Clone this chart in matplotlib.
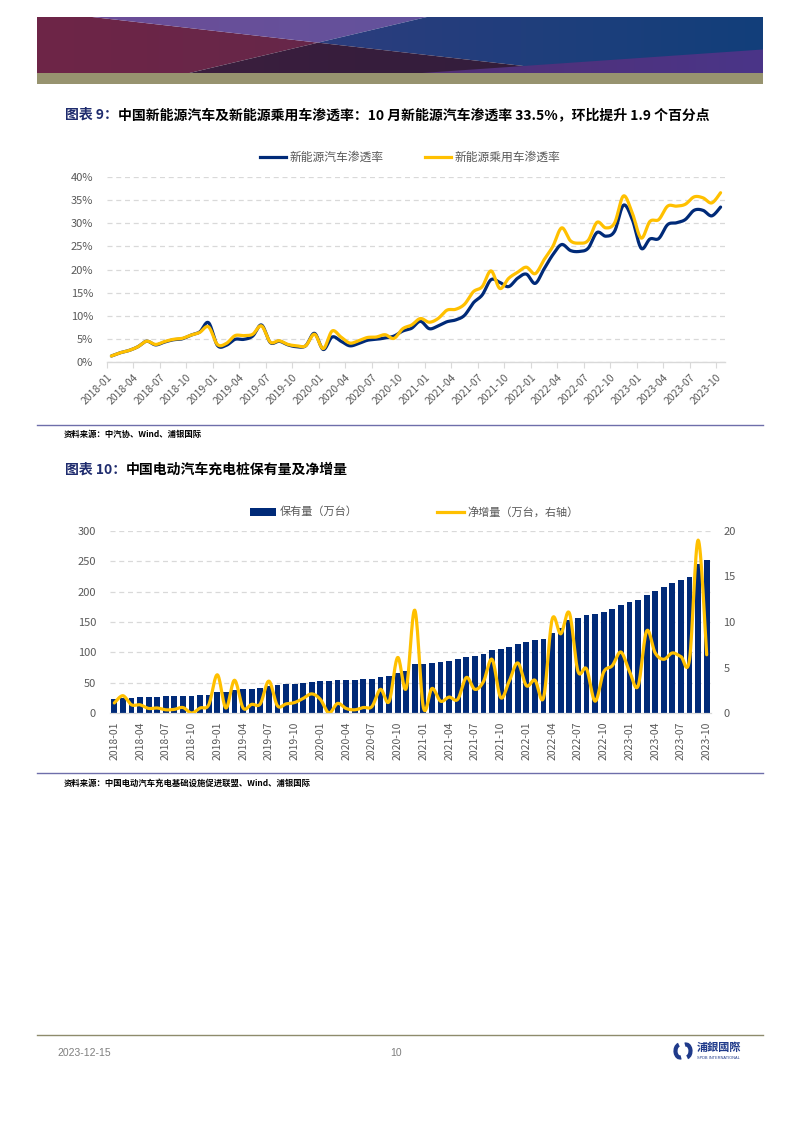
import numpy as np
import matplotlib
matplotlib.use('Agg')
import matplotlib.pyplot as plt
from matplotlib.patches import Polygon, Rectangle, Arc
from matplotlib.lines import Line2D

W, H = 794, 1123
plt.rcParams['font.family'] = ['Noto Sans CJK SC', 'DejaVu Sans']

NAVY = '#002A78'
GOLD = '#FFC000'
GRID = '#D9D9D9'
TXT = '#595959'

# ---- data ----
tick_labels = ['2018-01', '2018-04', '2018-07', '2018-10', '2019-01', '2019-04', '2019-07', '2019-10',
               '2020-01', '2020-04', '2020-07', '2020-10', '2021-01', '2021-04', '2021-07', '2021-10',
               '2022-01', '2022-04', '2022-07', '2022-10', '2023-01', '2023-04', '2023-07', '2023-10']

# NEV penetration (%), 2018-01 .. 2023-10
nev_rate = [1.3, 2.0, 2.5, 3.3, 4.5, 3.7, 4.3, 4.8, 5.0, 5.8, 6.5, 8.5,
            3.6, 3.6, 4.9, 4.9, 5.6, 8.0, 4.2, 4.5, 3.7, 3.3, 3.5, 6.2,
            2.7, 5.4, 4.5, 3.5, 4.0, 4.7, 4.9, 5.2, 5.6, 6.7, 7.3, 8.8,
            7.2, 7.8, 8.7, 9.1, 10.1, 12.8, 14.5, 17.8, 17.2, 16.3, 18.1, 19.0,
            17.0, 20.1, 23.2, 25.4, 24.1, 23.9, 24.6, 28.0, 27.2, 28.3, 33.9, 30.8,
            24.6, 26.6, 26.7, 29.7, 30.1, 30.8, 32.8, 32.8, 31.6, 33.5]

# NEV passenger car penetration (%)
pv_rate = [1.3, 2.0, 2.5, 3.3, 4.5, 3.8, 4.4, 4.9, 5.1, 5.8, 6.4, 7.6,
           3.8, 4.0, 5.7, 5.7, 6.0, 7.8, 4.3, 4.6, 3.8, 3.5, 3.5, 6.0,
           2.9, 6.7, 5.4, 4.1, 4.6, 5.3, 5.4, 5.9, 5.1, 7.2, 8.0, 9.4,
           8.6, 9.4, 11.2, 11.4, 12.5, 15.2, 16.3, 19.7, 15.9, 18.1, 19.4, 20.5,
           19.1, 22.1, 25.0, 29.0, 26.2, 25.7, 26.3, 30.2, 29.0, 30.1, 35.9, 32.2,
           26.8, 30.4, 30.8, 33.7, 33.7, 34.1, 35.7, 35.5, 34.4, 36.6]

# charging piles stock (10k units)
pile_stock = [22.4, 25.0, 25.0, 25.7, 26.3, 26.8, 27.4, 27.9, 27.9, 28.5, 29.0, 30.0,
              34.0, 34.5, 37.8, 39.0, 40.0, 41.0, 44.4, 45.5, 47.0, 48.0, 49.3,
              51.0, 52.6, 52.6, 53.7, 54.8, 54.8, 55.3, 56.4, 58.6, 60.2, 66.3, 69.0,
              80.5, 80.5, 82.7, 84.3, 86.5, 88.2, 92.0, 94.7, 98.0, 103.5, 105.7, 109.0, 114.0,
              116.6, 120.5, 122.7, 132.0, 140.2, 152.8, 156.6, 161.0, 162.6, 167.0, 172.0, 178.5,
              183.0, 185.6, 194.4, 201.5, 207.5, 214.0, 219.6, 225.0, 245.9, 251.4]

# net increase (10k units, right axis)
pile_added = [1.1, 1.9, 0.9, 0.9, 0.5, 0.55, 0.35, 0.4, 0.6, 0.0, 0.55, 0.9,
              4.2, 0.55, 3.6, 0.55, 0.95, 1.0, 3.5, 0.8, 1.0, 1.15, 1.6, 2.1,
              1.5, 0.0, 1.05, 0.5, 0.35, 0.6, 0.7, 2.6, 1.25, 6.1, 2.7, 11.3,
              0.6, 2.7, 1.3, 1.75, 1.5, 3.9, 2.6, 3.45, 5.9, 1.7, 3.5, 5.5,
              3.0, 3.6, 1.7, 10.3, 8.7, 11.0, 4.6, 4.85, 1.3, 4.5, 5.2, 6.7,
              4.6, 2.95, 9.0, 6.6, 5.9, 6.6, 6.2, 5.9, 19.0, 6.4]


def smooth(y, n=16):
    # excel-like smoothed line (catmull-rom as bezier)
    y = np.asarray(y, float)
    p = np.column_stack([np.arange(len(y), dtype=float), y])
    pts = np.vstack([p[0], p, p[-1]])
    t = np.linspace(0, 1, n, endpoint=False)[:, None]
    out = []
    for i in range(1, len(pts) - 2):
        p0, p1, p2, p3 = pts[i - 1], pts[i], pts[i + 1], pts[i + 2]
        b1 = p1 + (p2 - p0) / 6
        b2 = p2 - (p3 - p1) / 6
        out.append((1 - t) ** 3 * p1 + 3 * (1 - t) ** 2 * t * b1 + 3 * (1 - t) * t ** 2 * b2 + t ** 3 * p2)
    out.append(p[-1:])
    s = np.vstack(out)
    return s[:, 0], s[:, 1]


def px_axes(l, t, r, b):
    return fig.add_axes([l / W, 1 - b / H, (r - l) / W, (b - t) / H])


def fx(x):
    return x / W


def fy(y):
    return 1 - y / H


fig = plt.figure(figsize=(W / 100, H / 100), dpi=100)

# ---- header banner ----
bax = px_axes(37, 17, 763, 73)
bax.set_xlim(0, 1)
bax.set_ylim(0, 1)
bax.axis('off')
regions = [
    ([(0, 0), (0.21, 0), (0.387, 0.542), (0.076, 1), (0, 1)], '#6E2547', '#5A2A4D'),
    ([(0.076, 1), (0.537, 1), (0.387, 0.542)], '#6C4C96', '#5C58A2'),
    ([(0.387, 0.542), (0.537, 1), (1, 1), (1, 0), (0.755, 0)], '#3D3C80', '#123F7A'),
    ([(0.21, 0), (0.387, 0.542), (0.755, 0)], '#3E1F3F', '#2E1C3A'),
    ([(0.53, 0), (1, 0.42), (1, 0)], '#5B2A60', '#4A3588'),
]
for verts, c1, c2 in regions:
    poly = Polygon(verts, closed=True, facecolor='none', edgecolor='none')
    bax.add_patch(poly)
    grad = np.linspace(0, 1, 256)[None, :]
    cmap = matplotlib.colors.LinearSegmentedColormap.from_list('g', [c1, c2])
    im = bax.imshow(grad, extent=(0, 1, 0, 1), aspect='auto', cmap=cmap)
    im.set_clip_path(poly)
fig.patches.append(Rectangle((fx(37), fy(84)), (763 - 37) / W, 11 / H, transform=fig.transFigure,
                             facecolor='#97936F', edgecolor='none'))

# ---- titles ----
def title(y, head, rest):
    t1 = fig.text(fx(65), fy(y), head, color='#1F2C6E', fontsize=10, fontweight='bold', va='center')
    fig.canvas.draw()
    bb = t1.get_window_extent()
    fig.text(bb.x1 / W, fy(y), rest, color='black', fontsize=10, fontweight='bold', va='center')


title(115, '图表 9：', '中国新能源汽车及新能源乘用车渗透率：10 月新能源汽车渗透率 33.5%，环比提升 1.9 个百分点')
title(470, '图表 10：', '中国电动汽车充电桩保有量及净增量')

n = len(nev_rate)
x = np.arange(n)

# ---- chart 1 ----
ax1 = px_axes(107, 177, 725, 362)
sx, sy = smooth(nev_rate)
ax1.plot(sx, sy / 100, color=NAVY, lw=2.3, solid_capstyle='round', zorder=3)
sx, sy = smooth(pv_rate)
ax1.plot(sx, sy / 100, color=GOLD, lw=2.3, solid_capstyle='round', zorder=4)
ax1.set_xlim(-0.5, n - 0.5)
ax1.set_ylim(0, 0.40)
ax1.set_yticks(np.arange(0, 0.401, 0.05))
ax1.set_yticklabels([f'{v:.0f}%' for v in np.arange(0, 41, 5)])
ax1.set_xticks(np.arange(0, n, 3) - 0.5)
ax1.set_xticklabels(tick_labels, rotation=45, ha='right', rotation_mode='anchor')
ax1.tick_params(axis='y', length=0, pad=10, labelsize=8, labelcolor=TXT)
ax1.tick_params(axis='x', length=4, color=GRID, pad=3, labelsize=7.5, labelcolor=TXT)
ax1.grid(axis='y', color=GRID, lw=0.9, ls=(0, (4, 3)))
ax1.set_axisbelow(True)
for s in ['top', 'right', 'left']:
    ax1.spines[s].set_visible(False)
ax1.spines['bottom'].set_color(GRID)
ax1.spines['bottom'].set_linewidth(1)

# legend 1
fig.add_artist(Line2D([fx(260), fx(286)], [fy(157)] * 2, color=NAVY, lw=2.3))
fig.text(fx(290), fy(157), '新能源汽车渗透率', fontsize=8.5, color=TXT, va='center')
fig.add_artist(Line2D([fx(425), fx(451)], [fy(157)] * 2, color=GOLD, lw=2.3))
fig.text(fx(455), fy(157), '新能源乘用车渗透率', fontsize=8.5, color=TXT, va='center')

# source 1
fig.add_artist(Line2D([fx(37), fx(763)], [fy(425)] * 2, color='#6E6EAA', lw=1))
fig.text(fx(64), fy(434), '资料来源：中汽协、Wind、浦银国际', fontsize=6, fontweight='bold', va='center')

# ---- chart 2 ----
ax2 = px_axes(110, 531, 711, 713)
ax2.bar(x, pile_stock, width=0.68, color=NAVY, zorder=2)
ax2.set_xlim(-0.5, n - 0.5)
ax2.set_ylim(0, 300)
ax2.set_yticks(np.arange(0, 301, 50))
ax2.set_xticks(np.arange(0, n, 3))
ax2.set_xticklabels(tick_labels, rotation=90)
ax2.tick_params(axis='y', length=0, pad=10, labelsize=8, labelcolor=TXT)
ax2.tick_params(axis='x', length=0, pad=6, labelsize=7.5, labelcolor=TXT)
ax2.grid(axis='y', color=GRID, lw=0.9, ls=(0, (4, 3)))
ax2.set_axisbelow(True)
ax2r = ax2.twinx()
sx, sy = smooth(pile_added)
ax2r.plot(sx, sy, color=GOLD, lw=2.3, solid_capstyle='round')
ax2r.set_ylim(0, 20)
ax2r.set_yticks(np.arange(0, 21, 5))
ax2r.tick_params(axis='y', length=0, pad=9, labelsize=8, labelcolor=TXT)
for a in (ax2, ax2r):
    for s in ['top', 'right', 'left']:
        a.spines[s].set_visible(False)
    a.spines['bottom'].set_color(GRID)

# legend 2
fig.patches.append(Rectangle((fx(250), fy(516)), 26 / W, 8 / H, transform=fig.transFigure,
                             facecolor=NAVY, edgecolor='none'))
fig.text(fx(280), fy(512), '保有量（万台）', fontsize=8, color=TXT, va='center')
fig.add_artist(Line2D([fx(437), fx(464)], [fy(512)] * 2, color=GOLD, lw=2.3))
fig.text(fx(467), fy(512), '净增量（万台，右轴）', fontsize=8, color=TXT, va='center')

# source 2
fig.add_artist(Line2D([fx(37), fx(763)], [fy(773)] * 2, color='#6E6EAA', lw=1))
fig.text(fx(64), fy(783), '资料来源：中国电动汽车充电基础设施促进联盟、Wind、浦银国际', fontsize=6,
         fontweight='bold', va='center')

# ---- footer ----
fig.add_artist(Line2D([fx(37), fx(763)], [fy(1035)] * 2, color='#8E8B6C', lw=1))
fig.text(fx(57), fy(1053), '2023-12-15', fontsize=7.5, color='#7F7F7F', va='center',
         family=['Liberation Sans', 'DejaVu Sans'])
fig.text(fx(396), fy(1053), '10', fontsize=7.5, color='#7F7F7F', va='center', ha='center',
         family=['Liberation Sans', 'DejaVu Sans'])
for cx, th1, th2 in [(6.80, 100, 280), (6.86, -80, 100)]:
    fig.patches.append(Arc((cx, (H - 1051) / 100), 0.09, 0.13, theta1=th1, theta2=th2,
                           transform=fig.dpi_scale_trans, color='#1F3A8A', lw=3))
fig.text(fx(697), fy(1047), '浦銀國際', fontsize=8, fontweight='bold', color='#1F3A8A', va='center',
         family=['Noto Sans CJK TC', 'DejaVu Sans'])
fig.text(fx(697), fy(1058), 'SPDB INTERNATIONAL', fontsize=2.8, color='#1F3A8A', va='center',
         family=['Liberation Sans', 'DejaVu Sans'])

fig.savefig('out.png', dpi=100)
